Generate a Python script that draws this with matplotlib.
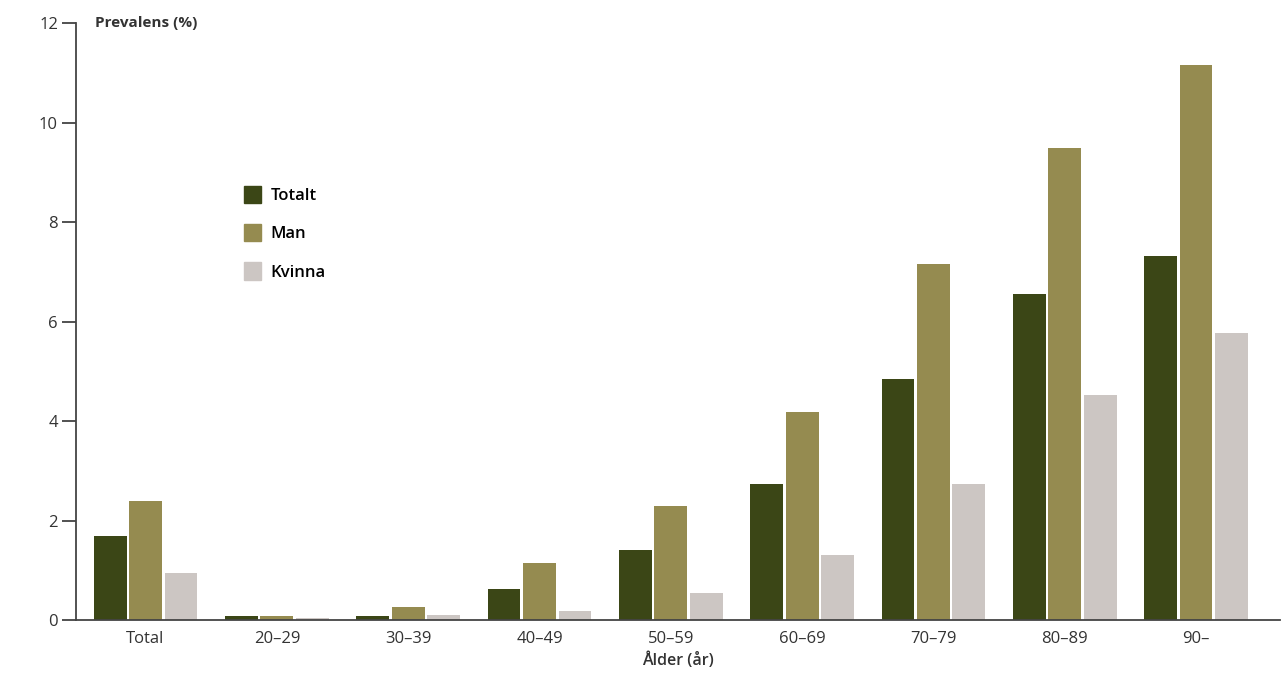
import numpy as np
import matplotlib.pyplot as plt
from matplotlib.patches import Patch

groups = ["Total", "20–29", "30–39", "40–49", "50–59", "60–69", "70–79", "80–89", "90–"]
totalt = [1.69, 0.08, 0.09, 0.62, 1.41, 2.73, 4.85, 6.55, 7.31]
man = [2.40, 0.08, 0.26, 1.15, 2.29, 4.18, 7.15, 9.48, 11.15]
kvinna = [0.94, 0.05, 0.11, 0.18, 0.54, 1.31, 2.74, 4.53, 5.77]

series_names = ["Totalt", "Man", "Kvinna"]
colors = ["#3b4616", "#958b50", "#ccc6c3"]

plt.rcParams['font.family'] = ['Open Sans', 'DejaVu Sans']

fig = plt.figure(figsize=(12.81, 6.89), dpi=100)
ax = fig.add_axes([0.0593, 0.100, 0.94, 0.8666])

x = np.arange(len(groups))
w = 0.25
step = 0.27
for i, (vals, c) in enumerate(zip([totalt, man, kvinna], colors)):
    ax.bar(x + (i - 1) * step, vals, width=w, color=c, zorder=2)

ax.set_xlim(-0.53, len(groups) - 1 + 0.64)
ax.set_ylim(0, 12)
ax.set_yticks([0, 2, 4, 6, 8, 10, 12])
ax.set_xticks(x)
ax.set_xticklabels(groups)
ax.tick_params(axis='x', length=0, pad=8, labelsize=12, colors='#333333')
ax.tick_params(axis='y', length=10, width=1.2, pad=3, labelsize=12, colors='#333333', direction='out')

for s in ['top', 'right']:
    ax.spines[s].set_visible(False)
ax.spines['left'].set_color('#444444')
ax.spines['bottom'].set_color('#444444')
ax.spines['left'].set_linewidth(1.3)
ax.spines['bottom'].set_linewidth(1.3)

ax.text(0.016, 12, "Prevalens (%)", fontsize=11, fontweight='bold', color='#333333',
        va='center', ha='left', transform=ax.get_yaxis_transform())
ax.set_xlabel("Ålder (år)", fontsize=11.5, fontweight='semibold', color='#333333', labelpad=4)

handles = [Patch(color=c, label=n) for c, n in zip(colors, series_names)]
ax.legend(handles=handles, loc='upper left', bbox_to_anchor=(0.127, 0.752), frameon=False,
          handlelength=1.0, handleheight=1.2, labelspacing=1.2, handletextpad=0.6,
          prop={'weight': 'semibold', 'size': 12})

fig.savefig('out.png', dpi=100)
